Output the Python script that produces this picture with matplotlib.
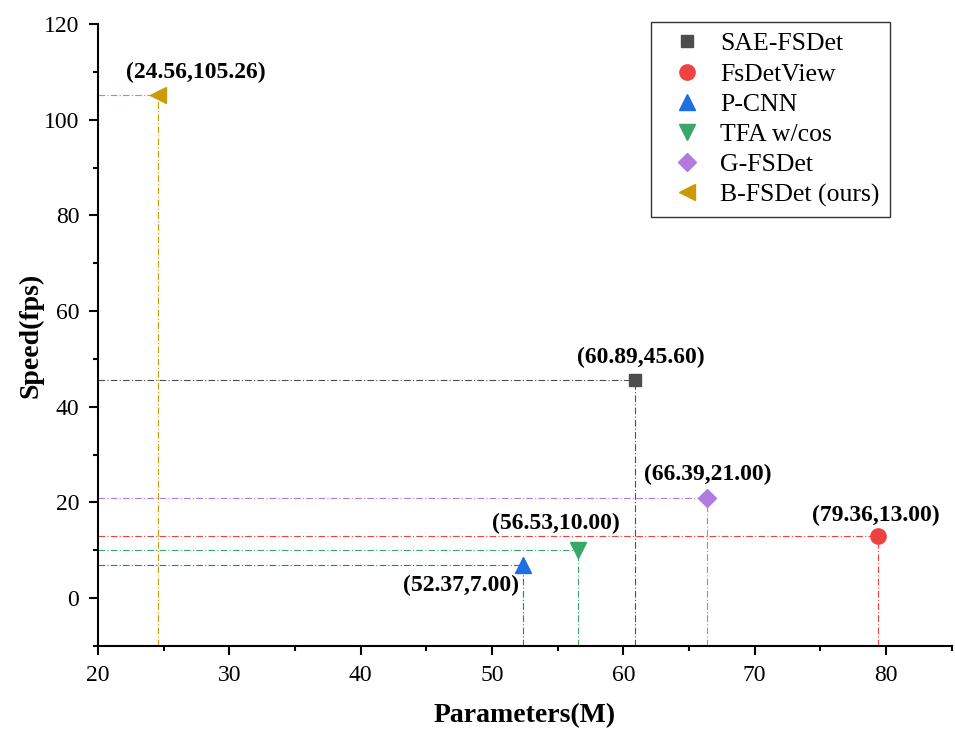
import matplotlib
matplotlib.use('Agg')
import matplotlib.pyplot as plt
from matplotlib.ticker import MultipleLocator

plt.rcParams['font.family'] = ['Liberation Serif', 'DejaVu Serif']

methods = ['SAE-FSDet', 'FsDetView', 'P-CNN', 'TFA w/cos', 'G-FSDet', 'B-FSDet (ours)']
params = [60.89, 79.36, 52.37, 56.53, 66.39, 24.56]
speed = [45.60, 13.00, 7.00, 10.00, 21.00, 105.26]
colors = ['#4d4d4d', '#f04141', '#1e6fe3', '#38a86a', '#b07ade', '#cc9a06']
markers = ['s', 'o', '^', 'v', 'D', '<']
sizes = [9, 11, 11, 11, 9, 11]
# label offsets in points (dx, dy)
offsets = [(4, 16.5), (-1, 15), (-45, -15), (-16, 19), (0, 17), (27, 16)]

xmin, xmax = 20, 85
ymin, ymax = -10, 120

fig = plt.figure(figsize=(9.55, 7.29), dpi=100)
ax = fig.add_axes([0.1026, 0.114, 0.894, 0.853])

for m, x, y, c, mk, s, off in zip(methods, params, speed, colors, markers, sizes, offsets):
    ax.plot([xmin, x], [y, y], color=c, lw=0.8, ls=(0, (6, 2, 1, 2)), zorder=2)
    ax.plot([x, x], [ymin, y], color=c, lw=0.8, ls=(0, (6, 2, 1, 2)), zorder=2)
    ax.plot(x, y, ls='none', marker=mk, color=c, markersize=s, label=m, zorder=3)
    ax.annotate('(%.2f,%.2f)' % (x, y), (x, y), xytext=off, textcoords='offset points',
                ha='center', va='center', fontsize=17, fontweight='bold')

ax.set_xlim(xmin, xmax)
ax.set_ylim(ymin, ymax)
ax.xaxis.set_major_locator(MultipleLocator(10))
ax.xaxis.set_minor_locator(MultipleLocator(5))
ax.yaxis.set_major_locator(MultipleLocator(20))
ax.yaxis.set_minor_locator(MultipleLocator(10))

for side in ['top', 'right']:
    ax.spines[side].set_visible(False)
for side in ['left', 'bottom']:
    ax.spines[side].set_linewidth(1.5)

ax.tick_params(which='major', direction='out', length=6.5, width=1.5, labelsize=17, pad=7)
ax.tick_params(which='minor', direction='out', length=3.6, width=1.5)

ax.set_xlabel('Parameters(M)', fontsize=20, fontweight='bold', labelpad=12.5)
ax.set_ylabel('Speed(fps)', fontsize=20, fontweight='bold', labelpad=0.5)

leg = ax.legend(loc='upper right', fontsize=18.5, frameon=True, fancybox=False,
                edgecolor='black', borderpad=0.4, handletextpad=0.3, labelspacing=0.28,
                borderaxespad=0, bbox_to_anchor=(0.9273, 1.003))
leg.get_frame().set_linewidth(1.0)

fig.savefig('out.png', dpi=100)
